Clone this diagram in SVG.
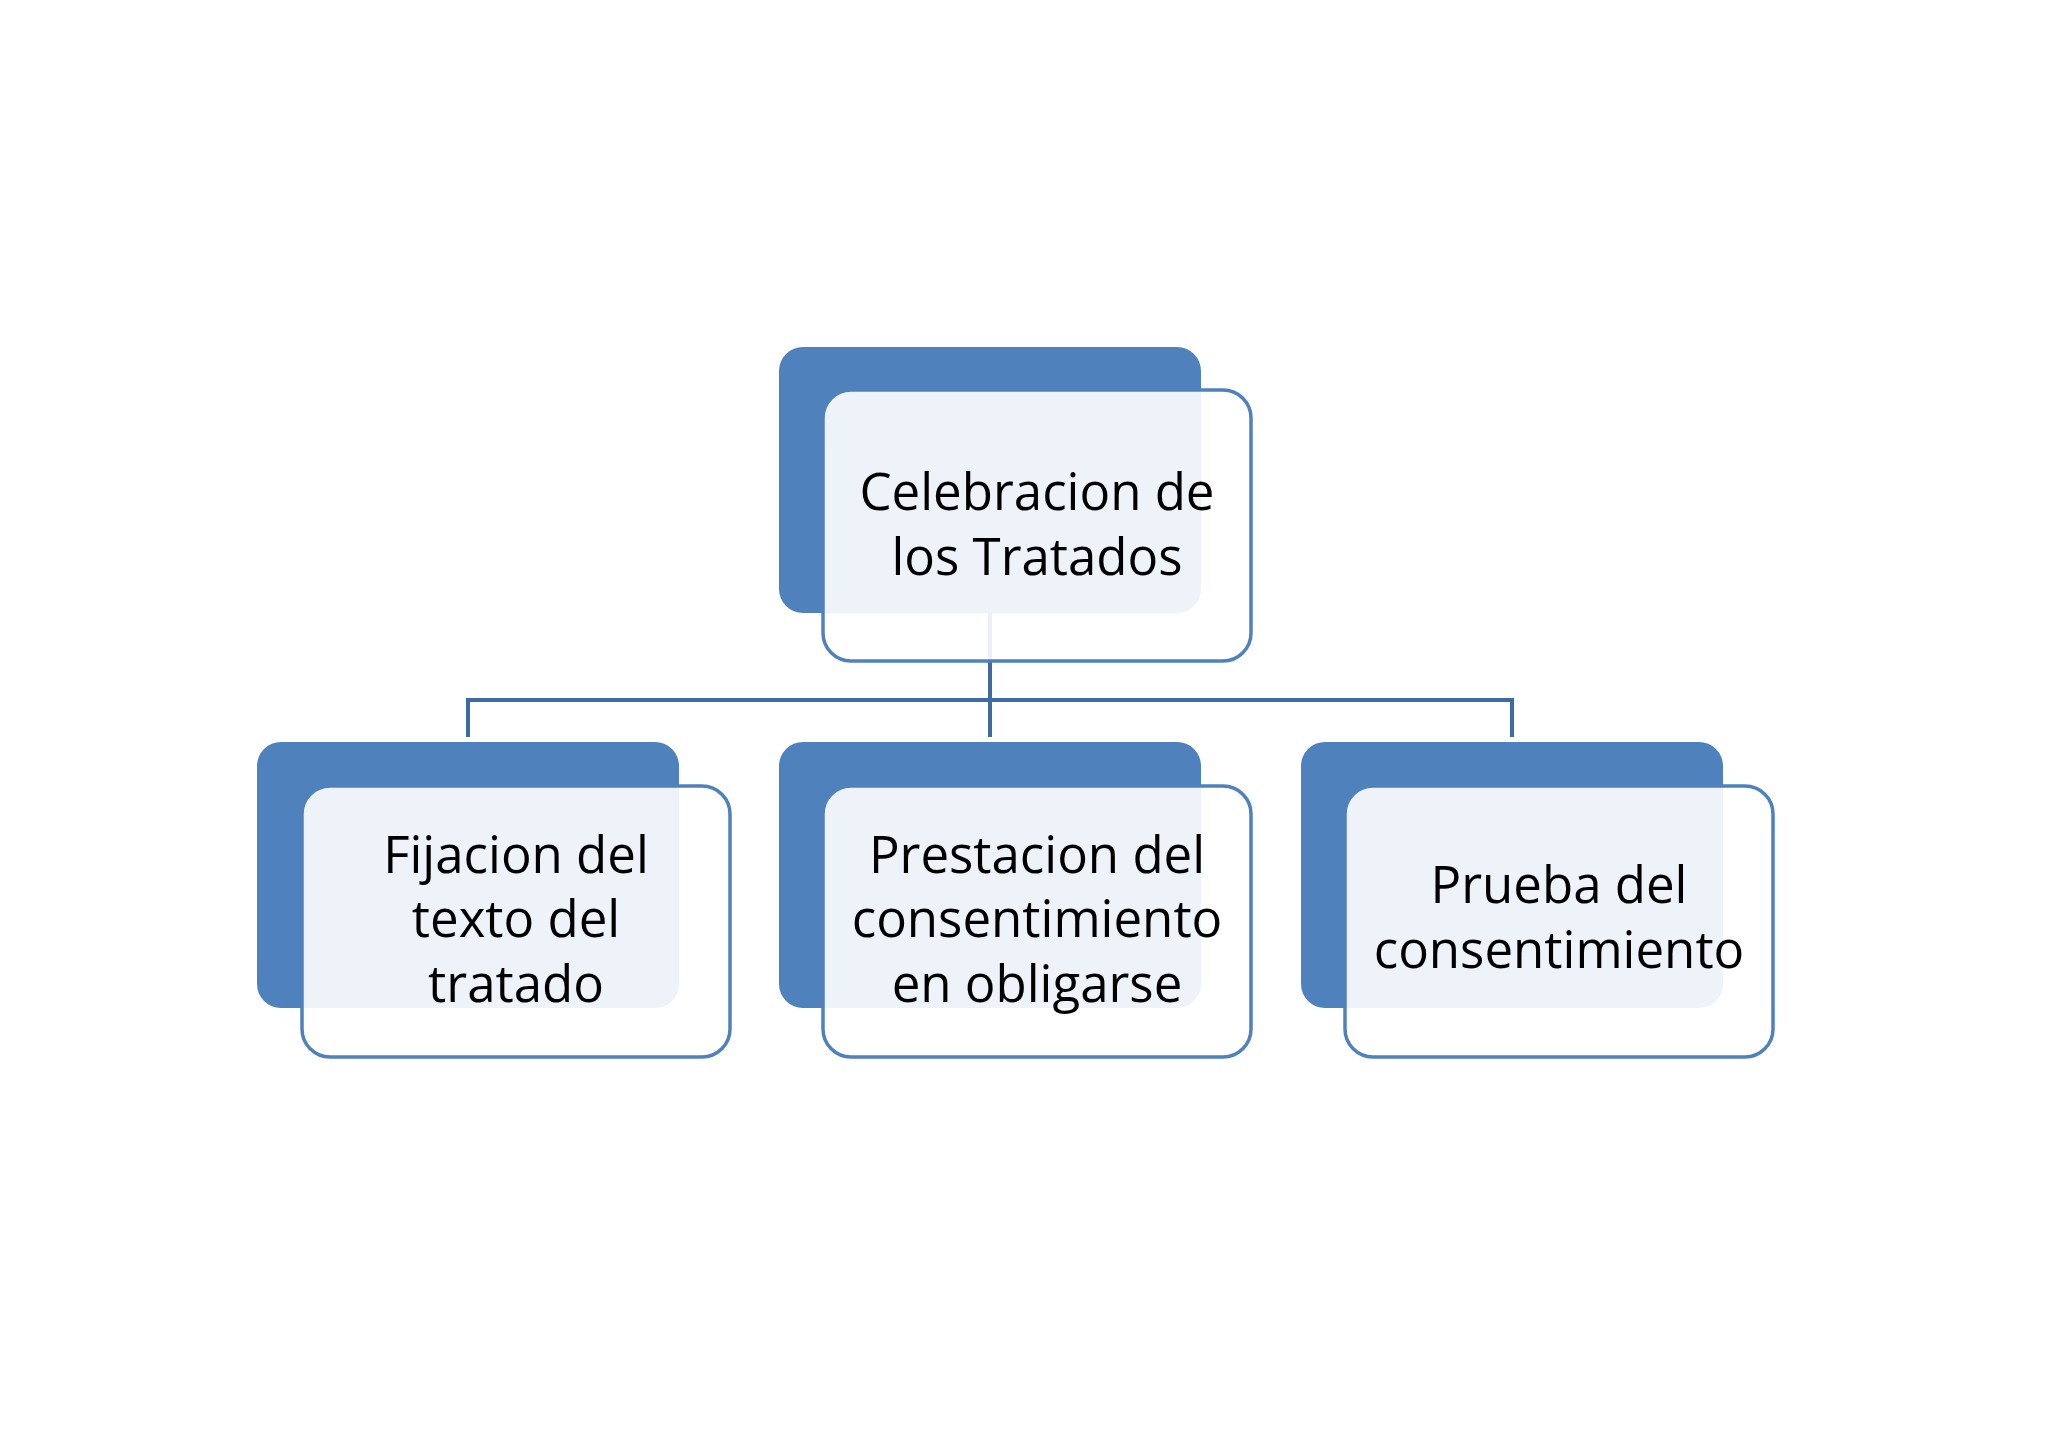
<svg xmlns="http://www.w3.org/2000/svg" width="2048" height="1447" viewBox="0 0 2048 1447">
<style>
.back{fill:#4f81bd}
.front{fill:#ffffff;fill-opacity:0.9;stroke:#4f81bd;stroke-width:3.5}
.conn{fill:none;stroke:#3f6ba3;stroke-width:4}
.lbl{font-family:"Open Sans","Liberation Sans",sans-serif;font-size:51px;fill:#000;text-anchor:middle}
</style>
<rect width="2048" height="1447" fill="#ffffff"/>
<g id="connectors">
<path class="conn" d="M990 613 V700 M468 737 V700 H1512 V737 M990 700 V737"/>
</g>
<g id="node-top">
<rect class="back" x="779" y="347" width="422" height="266" rx="24"/>
<rect class="front" x="823" y="390" width="428" height="271" rx="28"/>
<text class="lbl" x="1037" y="510">Celebracion de</text>
<text class="lbl" x="1037" y="575">los Tratados</text>
</g>
<g id="node-fijacion">
<rect class="back" x="257" y="742" width="422" height="266" rx="24"/>
<rect class="front" x="302" y="786" width="428" height="271" rx="28"/>
<text class="lbl" x="516" y="873">Fijacion del</text>
<text class="lbl" x="516" y="937">texto del</text>
<text class="lbl" x="516" y="1002">tratado</text>
</g>
<g id="node-prestacion">
<rect class="back" x="779" y="742" width="422" height="266" rx="24"/>
<rect class="front" x="823" y="786" width="428" height="271" rx="28"/>
<text class="lbl" x="1037" y="873">Prestacion del</text>
<text class="lbl" x="1037" y="937">consentimiento</text>
<text class="lbl" x="1037" y="1002">en obligarse</text>
</g>
<g id="node-prueba">
<rect class="back" x="1301" y="742" width="422" height="266" rx="24"/>
<rect class="front" x="1345" y="786" width="428" height="271" rx="28"/>
<text class="lbl" x="1559" y="903">Prueba del</text>
<text class="lbl" x="1559" y="968">consentimiento</text>
</g>
</svg>
